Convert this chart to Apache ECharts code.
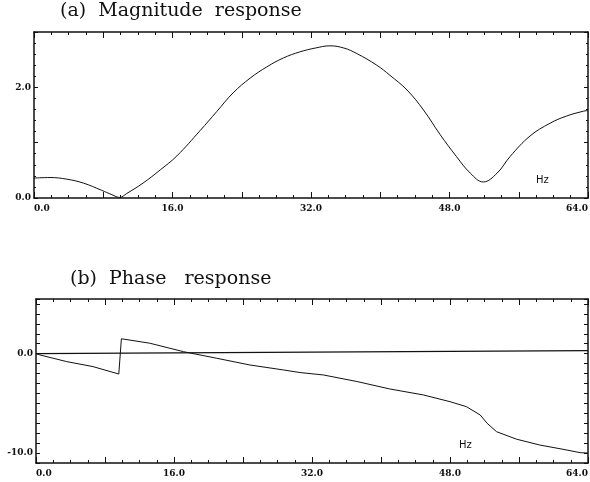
<!DOCTYPE html>
<html>
<head>
<meta charset="utf-8">
<script src="https://cdn.jsdelivr.net/npm/echarts/dist/echarts.min.js"></script>
<style>html,body{margin:0;padding:0;background:#fff;overflow:hidden;}#c{width:590px;height:482px;}</style>
</head>
<body>
<div id="c"></div>
<script>
// Magnitude response (Hz, value)
const magFreq = [0, 1.85, 3.8, 5.7, 7.8, 9.0, 9.9, 10.7, 12.6, 14.6, 16.5, 19.2, 21.1, 23.0, 25.0, 26.9, 28.8, 30.7, 32.5, 34.2, 35.8, 37.3, 39.6, 41.1, 43.1, 45.0, 46.9, 48.8, 50.4, 51.9, 53.5, 55.0, 57.3, 59.6, 61.5, 63.5, 64.0];
const magValue = [0.36, 0.37, 0.34, 0.27, 0.14, 0.06, 0.01, 0.08, 0.27, 0.51, 0.76, 1.22, 1.56, 1.9, 2.17, 2.37, 2.53, 2.64, 2.71, 2.75, 2.71, 2.61, 2.4, 2.22, 1.95, 1.59, 1.15, 0.75, 0.45, 0.29, 0.45, 0.75, 1.12, 1.35, 1.48, 1.57, 1.58];
// Phase response (Hz, value)
const phaseFreq = [0, 0.46, 3.56, 6.6, 9.6, 9.9, 13.2, 17.1, 20.95, 24.8, 28.7, 30.6, 33.3, 37.2, 41.0, 44.9, 48.0, 49.9, 51.5, 52.3, 53.4, 55.7, 58.4, 61.1, 63.1, 64.0];
const phaseValue = [0, -0.13, -0.8, -1.3, -2.05, 1.5, 1.05, 0.2, -0.46, -1.14, -1.64, -1.9, -2.14, -2.8, -3.55, -4.15, -4.83, -5.33, -6.17, -7.0, -7.85, -8.6, -9.19, -9.62, -9.96, -10.0];
// Zero reference line
const zeroFreq = [0, 64];
const zeroValue = [0, 0.3];
// Tick labels
const xTickLabels = [0, 16, 32, 48, 64];
const magTickLabels = [0, 2];
const phaseTickLabels = [0, -10];

const pairs = (xs, ys) => xs.map((x, i) => [x, ys[i]]);
const lineCol = '#111';
const labelFont = { fontFamily: 'DejaVu Serif', fontSize: 9, fontWeight: 'bold', color: '#111' };

function xAxes(gridIndex) {
  const base = {
    type: 'value', gridIndex, min: 0, max: 64, interval: 8,
    axisLine: { show: true, onZero: false, lineStyle: { color: lineCol, width: 1.5 } },
    axisTick: { show: true, inside: true, length: 6, lineStyle: { color: lineCol } },
    minorTick: { show: true, splitNumber: 4, length: 3, lineStyle: { color: lineCol } },
    splitLine: { show: false }, minorSplitLine: { show: false }
  };
  return [
    Object.assign({}, base, {
      position: 'bottom',
      axisLabel: Object.assign({ margin: 6, alignMinLabel: 'left', alignMaxLabel: 'right', formatter: v => xTickLabels.includes(v) ? v.toFixed(1) : '' }, labelFont)
    }),
    Object.assign({}, base, { position: 'top', axisLabel: { show: false } })
  ];
}
function yAxes(gridIndex, min, max, interval, minorSplit, labels) {
  const base = {
    type: 'value', gridIndex, min, max, interval,
    axisLine: { show: true, onZero: false, lineStyle: { color: lineCol, width: 1.5 } },
    axisTick: { show: true, inside: true, length: 4, lineStyle: { color: lineCol } },
    minorTick: { show: minorSplit > 0, splitNumber: minorSplit || 1, length: 2, lineStyle: { color: lineCol } },
    splitLine: { show: false }, minorSplitLine: { show: false }
  };
  return [
    Object.assign({}, base, {
      position: 'left',
      axisLabel: Object.assign({ margin: 3, formatter: v => labels.includes(v) ? v.toFixed(1) : '' }, labelFont)
    }),
    Object.assign({}, base, { position: 'right', axisLabel: { show: false } })
  ];
}

const chart = echarts.init(document.getElementById('c'), null, { renderer: 'canvas' });
chart.setOption({
  backgroundColor: '#fff',
  animation: false,
  grid: [
    { left: 34, top: 32, width: 554, height: 166, outerBoundsMode: 'none', containLabel: false },
    { left: 36, top: 299, width: 552, height: 164, outerBoundsMode: 'none', containLabel: false }
  ],
  xAxis: [...xAxes(0), ...xAxes(1)],
  yAxis: [...yAxes(0, 0, 3, 1, 5, magTickLabels), ...yAxes(1, -11, 5.5, 1, 0, phaseTickLabels)],
  graphic: [
    { type: 'text', left: 60, top: 2, style: { text: '(a)  Magnitude  response', font: '19px "DejaVu Serif"', fill: '#111' } },
    { type: 'text', left: 70, top: 270, style: { text: '(b)  Phase   response', font: '19px "DejaVu Serif"', fill: '#111' } },
    { type: 'text', left: 536, top: 175, style: { text: 'Hz', font: '10px "DejaVu Sans"', fill: '#111' } },
    { type: 'text', left: 459, top: 440, style: { text: 'Hz', font: '10px "DejaVu Sans"', fill: '#111' } }
  ],
  series: [
    { type: 'line', xAxisIndex: 0, yAxisIndex: 0, data: pairs(magFreq, magValue), showSymbol: false, smooth: 0.4, lineStyle: { color: lineCol, width: 1 } },
    { type: 'line', xAxisIndex: 2, yAxisIndex: 2, data: pairs(zeroFreq, zeroValue), showSymbol: false, lineStyle: { color: lineCol, width: 1.2 } },
    { type: 'line', xAxisIndex: 2, yAxisIndex: 2, data: pairs(phaseFreq, phaseValue), showSymbol: false, lineStyle: { color: lineCol, width: 1 } }
  ]
});
</script>
</body>
</html>
